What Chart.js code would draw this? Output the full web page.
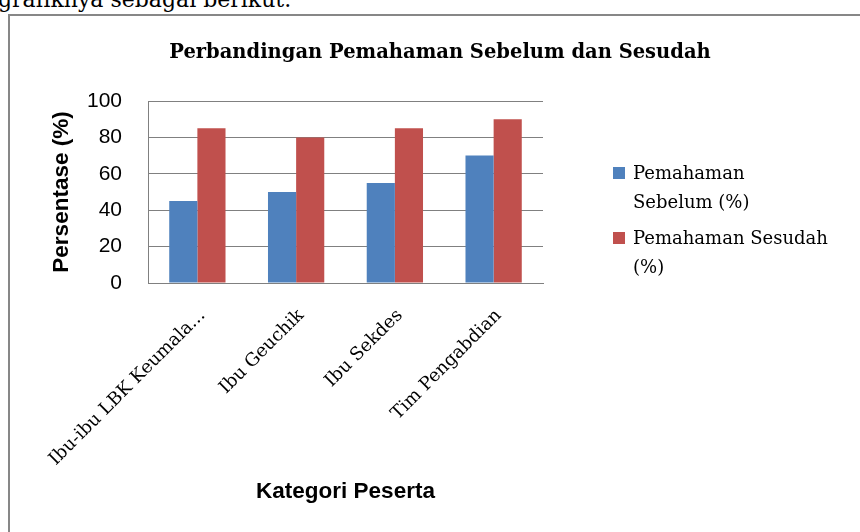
<!DOCTYPE html>
<html>
<head>
<meta charset="utf-8">
<script src="https://cdn.jsdelivr.net/npm/chart.js@4.4.1/dist/chart.umd.min.js"></script>
<style>
  html, body { margin: 0; padding: 0; background: #fff; overflow: hidden; }
  #page { position: relative; width: 860px; height: 532px; }
  #intro {
    position: absolute; left: -2px; top: -11px;
    font-family: "DejaVu Serif", serif; font-size: 22px; line-height: 22px;
    color: #000; white-space: nowrap;
  }
  #frame {
    position: absolute; left: 8px; top: 14px; width: 900px; height: 600px;
    border-left: 2px solid #878787; border-top: 2px solid #878787;
  }
  #chart { position: absolute; left: 0; top: 0; }
  #legend {
    position: absolute; left: 613px; top: 158px; margin: 0; padding: 0;
    list-style: none; font-family: "DejaVu Serif", serif; font-size: 18px;
    line-height: 29px; color: #000;
  }
  #legend li { position: relative; padding-left: 20px; margin-bottom: 7px; }
  #legend li span.box {
    position: absolute; left: 0; top: 9px; width: 12px; height: 12px;
  }
</style>
</head>
<body>
<div id="page">
  <div id="intro">grafiknya sebagai berikut.</div>
  <div id="frame"></div>
  <canvas id="chart" width="860" height="532"></canvas>
  <ul id="legend"></ul>
</div>
<script>
// ===============================
// Data
// ===============================
const categories = ['Ibu-ibu LBK Keumala...', 'Ibu Geuchik', 'Ibu Sekdes', 'Tim Pengabdian'];
const sebelum = [45, 50, 55, 70];
const sesudah = [85, 80, 85, 90];
const yTicks = [0, 20, 40, 60, 80, 100];
// legend lines as wrapped in the original
const seriesNames = [['Pemahaman', 'Sebelum (%)'], ['Pemahaman Sesudah', '(%)']];
const seriesColors = ['#4F81BD', '#C0504D'];

const chartTitle = 'Perbandingan Pemahaman Sebelum dan Sesudah';
const yTitle = 'Persentase (%)';
const xTitle = 'Kategori Peserta';

const gridColor = '#808080';
const serif = '"DejaVu Serif", serif';
const sans = '"Liberation Sans", Arial, sans-serif';

// ===============================
// Chart
// ===============================
const ctx = document.getElementById('chart').getContext('2d');
const chart = new Chart(ctx, {
  type: 'bar',
  data: {
    labels: categories,
    datasets: [sebelum, sesudah].map((values, i) => ({
      label: seriesNames[i].join(' '),
      data: values,
      backgroundColor: seriesColors[i],
      borderWidth: 0,
      categoryPercentage: 0.57,
      barPercentage: 1.0
    }))
  },
  options: {
    responsive: false,
    animation: false,
    layout: { padding: { left: 20, right: 0, top: 0, bottom: 0 } },
    plugins: {
      legend: { display: false },
      tooltip: { enabled: false },
      title: {
        display: true,
        text: chartTitle,
        color: '#000',
        font: { family: serif, size: 19.5, weight: 'bold', lineHeight: 1.2 },
        padding: { top: 41.3, bottom: 36.3 }
      }
    },
    scales: {
      x: {
        offset: true,
        grid: { display: false },
        border: { display: true, color: gridColor, width: 1 },
        ticks: {
          color: '#000',
          font: { family: serif, size: 18 },
          minRotation: 45,
          maxRotation: 45,
          autoSkip: false,
          labelOffset: 5,
          padding: 14
        },
        title: {
          display: true,
          text: xTitle,
          color: '#000',
          font: { family: sans, size: 22.5, weight: 'bold', lineHeight: 1.2 },
          padding: { top: 0, bottom: 26.5 }
        },
        afterFit: s => { s.height = 249; }
      },
      y: {
        min: 0,
        max: 100,
        afterBuildTicks: s => { s.ticks = yTicks.map(v => ({ value: v })); },
        grid: { color: gridColor, lineWidth: 1, drawTicks: false },
        border: { display: true, color: gridColor, width: 1 },
        ticks: {
          color: '#000',
          font: { family: sans, size: 21 },
          padding: 26
        },
        title: {
          display: true,
          text: yTitle,
          color: '#000',
          font: { family: sans, size: 22.5, weight: 'bold', lineHeight: 1.2 },
          padding: { top: 28.5, bottom: 0 }
        },
        afterFit: s => { s.width = 128; }
      },
      // empty axis that reserves room for the legend on the right
      yRight: {
        type: 'linear',
        position: 'right',
        display: true,
        grid: { display: false },
        border: { display: false },
        ticks: { display: false },
        afterFit: s => { s.width = 317; }
      }
    }
  }
});

// HTML legend so the labels can wrap like the original
const legendEl = document.getElementById('legend');
legendEl.innerHTML = chart.data.datasets.map((ds, i) => `
  <li><span class="box" style="background:${ds.backgroundColor}"></span>${seriesNames[i].join('<br>')}</li>
`).join('');
</script>
</body>
</html>
